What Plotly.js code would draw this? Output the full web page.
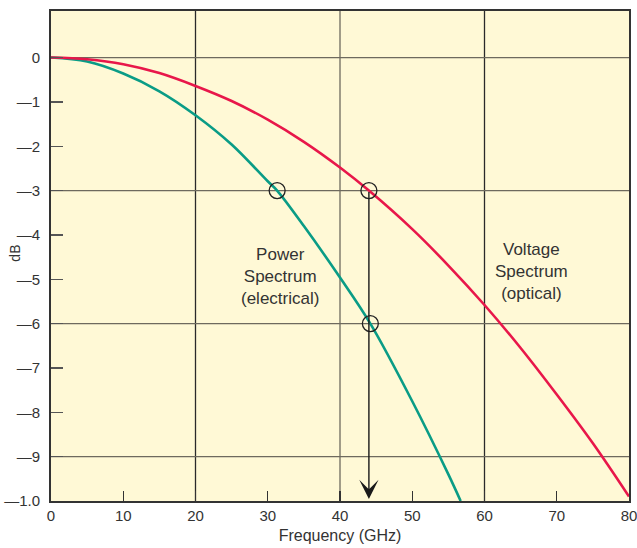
<!DOCTYPE html>
<html><head><meta charset="utf-8">
<script src="https://cdn.plot.ly/plotly-3.0.1.min.js"></script>
<style>html,body{margin:0;padding:0;background:#fff}#chart{width:637px;height:548px}</style>
</head><body><div id="chart"></div>
<script>
// Voltage spectrum (optical)
const voltFreq = [0, 5, 10, 15, 20, 25, 30, 35, 40, 44, 50, 55, 60, 65, 70, 75, 80];
const voltDb   = [0, -0.04, -0.15, -0.35, -0.64, -0.98, -1.4, -1.9, -2.48, -3.0, -3.87, -4.69, -5.58, -6.55, -7.6, -8.7, -9.9];
// Power spectrum (electrical)
const powFreq = [0, 5, 10, 15, 20, 25, 30, 31.3, 35, 40, 44.2, 50, 55, 56.7];
const powDb   = [0, -0.09, -0.36, -0.76, -1.3, -1.96, -2.79, -3.0, -3.8, -4.96, -6.0, -7.75, -9.4, -10];
// Marked points
const markFreq = [31.3, 44, 44.2];
const markDb   = [-3, -3, -6];
// Axis ticks
const xTicks = [0, 10, 20, 30, 40, 50, 60, 70, 80];
const yTicks = [0, -1, -2, -3, -4, -5, -6, -7, -8, -9, -10];
const yTickText = ["0", "\u20141", "\u20142", "\u20143", "\u20144", "\u20145", "\u20146", "\u20147", "\u20148", "\u20149", "\u20141.0"];
const xGrid = [20, 40, 60];
const yGrid = [0, -3, -6, -9];
const arrowFreq = 44, arrowFrom = -3, arrowTo = -10;

const traces = [
  {x: powFreq, y: powDb, mode: 'lines', line: {color: '#0a9c86', width: 2.6, shape: 'spline'}, hoverinfo: 'skip'},
  {x: voltFreq, y: voltDb, mode: 'lines', line: {color: '#e8174a', width: 2.6, shape: 'spline'}, hoverinfo: 'skip'},
  {x: markFreq, y: markDb, mode: 'markers', marker: {symbol: 'circle-open', size: 16, color: '#222', line: {width: 1.3, color: '#222'}}, hoverinfo: 'skip'}
];

const shapes = [];
xGrid.forEach((v, i) => shapes.push({type: 'line', xref: 'x', yref: 'y', x0: v, x1: v, y0: -10, y1: 1.05, layer: 'below',
  line: {color: i === 1 ? '#6e6a5e' : '#2a2a2a', width: 1.3}}));
yGrid.forEach(v => shapes.push({type: 'line', xref: 'x', yref: 'y', x0: 0, x1: 80, y0: v, y1: v, layer: 'below',
  line: {color: '#6e6a5e', width: 1.3}}));

const font = {family: 'Liberation Sans, Arial, sans-serif', color: '#333'};
const layout = {
  width: 637, height: 548,
  margin: {l: 51, r: 8, t: 11, b: 47},
  paper_bgcolor: '#ffffff', plot_bgcolor: '#fff9d6',
  showlegend: false,
  font: Object.assign({size: 15}, font),
  xaxis: {range: [0, 80], tickvals: xTicks, ticktext: xTicks.map(String), showgrid: false, zeroline: false,
    ticks: 'inside', ticklen: 10, tickwidth: 1.3, tickcolor: '#333', ticklabeloverflow: 'allow',
    showline: true, mirror: true, linecolor: '#333', linewidth: 2,
    tickfont: Object.assign({size: 15}, font),
    title: {text: 'Frequency (GHz)', font: Object.assign({size: 16}, font), standoff: 7}},
  yaxis: {range: [-10, 1.05], tickvals: yTicks, ticktext: yTickText, showgrid: false, zeroline: false,
    ticks: 'inside', ticklen: 12, tickwidth: 1.3, tickcolor: '#555', ticklabelstandoff: 6, ticklabeloverflow: 'allow',
    showline: true, mirror: true, linecolor: '#333', linewidth: 2,
    tickfont: Object.assign({size: 15}, font)},
  shapes: shapes,
  annotations: [
    {x: arrowFreq, y: arrowTo, ax: arrowFreq, ay: arrowFrom, xref: 'x', yref: 'y', axref: 'x', ayref: 'y',
      showarrow: true, arrowhead: 3, arrowsize: 2.3, arrowwidth: 1.4, arrowcolor: '#1a1a1a', standoff: 2, text: ''},
    {x: 31.7, y: -4.94, xref: 'x', yref: 'y', showarrow: false, align: 'center',
      text: 'Power<br>Spectrum<br>(electrical)', font: Object.assign({size: 17}, font)},
    {x: 66.5, y: -4.83, xref: 'x', yref: 'y', showarrow: false, align: 'center',
      text: 'Voltage<br>Spectrum<br>(optical)', font: Object.assign({size: 17}, font)},
    {x: -0.063, y: 0.506, xref: 'paper', yref: 'paper', xanchor: 'center', yanchor: 'middle', showarrow: false, textangle: -90,
      text: 'dB', font: Object.assign({size: 14}, font)}
  ]
};
Plotly.newPlot('chart', traces, layout, {displayModeBar: false, staticPlot: true});
</script></body></html>
